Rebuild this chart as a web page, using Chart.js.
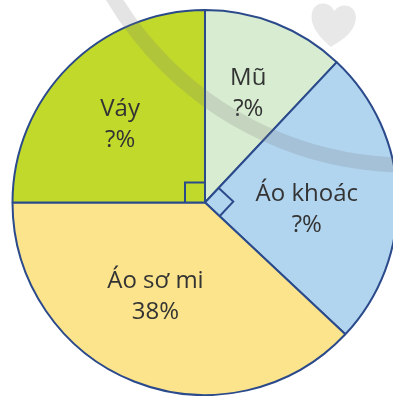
<!DOCTYPE html>
<html>
<head>
<meta charset="utf-8">
<script src="https://cdn.jsdelivr.net/npm/chart.js@4"></script>
<style>
  html, body { margin: 0; padding: 0; background: #fff; overflow: hidden; }
  canvas { display: block; }
</style>
</head>
<body>
<canvas id="pieChart" width="410" height="396"></canvas>
<script>
// Dữ liệu biểu đồ
const loai = ['Mũ', 'Áo khoác', 'Áo sơ mi', 'Váy'];
const phanTram = [12, 25, 38, 25];
const nhanHienThi = ['?%', '?%', '38%', '?%'];
const mauNen = ['#d7ecd0', '#b1d4ef', '#fbe48c', '#c0d92b'];

const mauVien = '#2b4a8b';
// khoảng cách chữ so với tâm (tỉ lệ bán kính) và độ lệch góc cho từng phần
const viTriChu = [[0.61, 0], [0.53, 0.1], [0.55, 0.11], [0.6, -0.04]];

// Vẽ chữ trong từng phần và dấu góc vuông cho phần 25%
const nhanPlugin = {
  id: 'nhanPlugin',
  afterDatasetsDraw(chart) {
    const ctx = chart.ctx;
    const meta = chart.getDatasetMeta(0);
    ctx.save();
    meta.data.forEach((arc, i) => {
      const p = arc.getProps(['x', 'y', 'startAngle', 'endAngle', 'outerRadius']);
      // góc vuông
      if (phanTram[i] === 25) {
        const s = 20;
        const a1 = p.startAngle, a2 = p.endAngle;
        ctx.beginPath();
        ctx.moveTo(p.x + Math.cos(a1) * s, p.y + Math.sin(a1) * s);
        ctx.lineTo(p.x + Math.cos(a1) * s + Math.cos(a2) * s, p.y + Math.sin(a1) * s + Math.sin(a2) * s);
        ctx.lineTo(p.x + Math.cos(a2) * s, p.y + Math.sin(a2) * s);
        ctx.strokeStyle = mauVien;
        ctx.lineWidth = 2;
        ctx.stroke();
      }
      const mid = (p.startAngle + p.endAngle) / 2 + viTriChu[i][1];
      const r = p.outerRadius * viTriChu[i][0];
      const x = p.x + Math.cos(mid) * r;
      const y = p.y + Math.sin(mid) * r;
      ctx.fillStyle = '#333';
      ctx.font = '24px "Open Sans", sans-serif';
      ctx.textAlign = 'center';
      ctx.textBaseline = 'middle';
      ctx.fillText(loai[i], x, y - 15);
      ctx.fillText(nhanHienThi[i], x, y + 16);
    });
    ctx.restore();
  },
  afterDraw(chart) {
    // hình mờ phía trên
    const ctx = chart.ctx;
    ctx.save();
    ctx.beginPath();
    ctx.arc(408, -178, 343, Math.PI * 0.5, Math.PI * 1.0);
    ctx.strokeStyle = 'rgba(120,120,120,0.2)';
    ctx.lineWidth = 15;
    ctx.stroke();
    // trái tim
    ctx.translate(333, 24);
    ctx.rotate(0.1);
    ctx.beginPath();
    ctx.moveTo(0, -13);
    ctx.bezierCurveTo(-6, -24, -24, -21, -22, -5);
    ctx.bezierCurveTo(-21, 8, -8, 17, 0, 23);
    ctx.bezierCurveTo(8, 17, 21, 8, 22, -5);
    ctx.bezierCurveTo(24, -21, 6, -24, 0, -13);
    ctx.fillStyle = 'rgba(120,120,120,0.17)';
    ctx.fill();
    ctx.restore();
  }
};

new Chart(document.getElementById('pieChart'), {
  type: 'pie',
  data: {
    labels: loai,
    datasets: [{
      data: phanTram,
      backgroundColor: mauNen,
      borderColor: mauVien,
      borderWidth: 2
    }]
  },
  options: {
    responsive: false,
    animation: false,
    layout: { padding: { left: 11, right: 11, top: 9, bottom: 0 } },
    plugins: {
      legend: { display: false },
      tooltip: { enabled: false }
    }
  },
  plugins: [nhanPlugin]
});
</script>
</body>
</html>
